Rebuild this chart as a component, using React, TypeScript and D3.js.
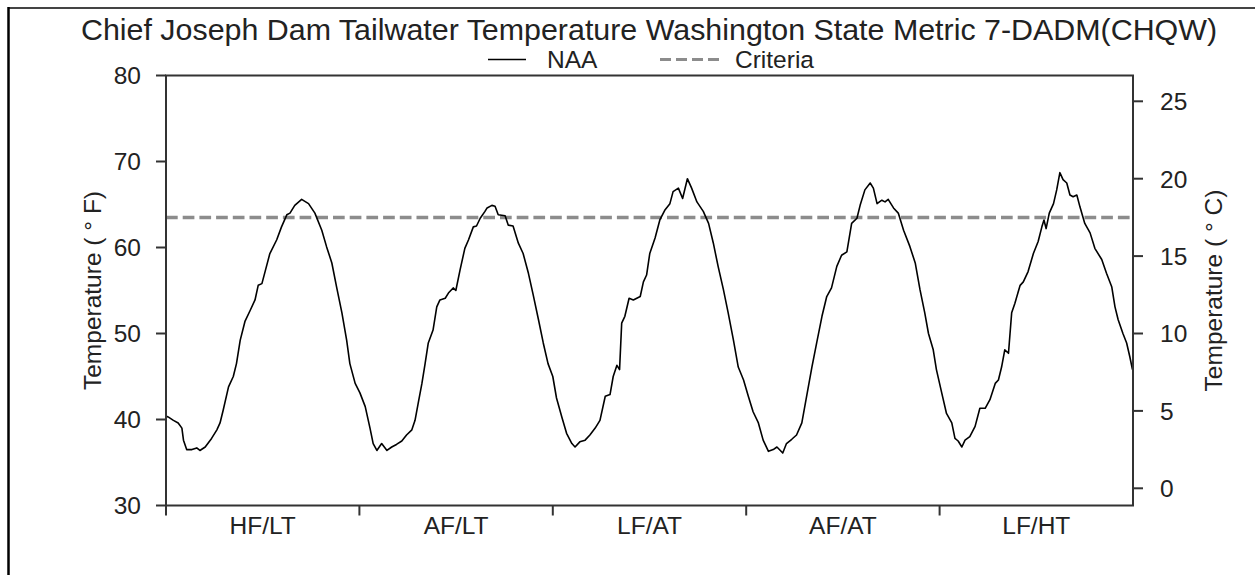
import React from "react";
import * as d3 from "d3";

const title = "Chief Joseph Dam Tailwater Temperature Washington State Metric 7-DADM(CHQW)";
const categories = ["HF/LT", "AF/LT", "LF/AT", "AF/AT", "LF/HT"];
const totalDays = 1825;
const fTicks = [30, 40, 50, 60, 70, 80];
const cTicks = [0, 5, 10, 15, 20, 25];
const criteriaC = 17.5;

const days = [0,4,14,23,30,33,39,49,58,64,74,86,96,102,108,118,127,133,140,149,159,168,174,181,187,196,209,218,228,234,243,256,269,281,294,303,313,322,332,341,347,357,366,376,385,391,398,407,417,426,435,445,454,464,470,476,483,489,495,504,511,517,527,533,542,547,555,564,571,580,586,593,602,606,615,621,627,640,646,655,665,674,684,693,703,712,721,730,737,747,756,766,772,781,791,800,810,819,829,838,844,851,856,860,866,874,882,895,901,907,913,923,932,942,951,957,967,975,984,992,1002,1014,1024,1033,1042,1052,1061,1071,1080,1090,1099,1108,1118,1127,1137,1146,1153,1164,1171,1181,1190,1200,1209,1219,1228,1238,1247,1256,1266,1275,1285,1294,1304,1310,1319,1329,1335,1342,1351,1357,1363,1373,1382,1392,1404,1414,1423,1432,1439,1448,1454,1464,1473,1483,1489,1495,1502,1508,1517,1527,1536,1546,1555,1565,1571,1577,1583,1590,1596,1602,1612,1618,1627,1637,1646,1653,1657,1661,1667,1675,1681,1687,1693,1700,1706,1712,1719,1725,1734,1744,1753,1766,1775,1785,1791,1797,1806,1813,1819,1824];

const naaF = [40.4,40.3,39.9,39.6,39.0,37.6,36.5,36.5,36.7,36.4,36.8,37.8,38.8,39.6,41.1,43.8,45.0,46.5,49.2,51.4,52.7,53.9,55.6,55.8,57.2,59.3,60.9,62.4,63.8,64.0,64.9,65.6,65.1,64.0,62.0,60.1,58.2,55.4,52.4,49.2,46.5,44.2,43.1,41.5,39.0,37.2,36.4,37.2,36.4,36.8,37.1,37.5,38.2,38.8,39.9,41.9,44.2,46.5,48.9,50.4,53.1,53.9,54.1,54.7,55.3,55.0,57.4,59.9,60.9,62.4,62.5,63.4,64.2,64.6,64.9,64.8,63.8,63.7,62.6,62.5,60.5,59.3,57.0,54.5,51.6,48.9,46.5,45.0,42.5,40.3,38.4,37.2,36.8,37.4,37.6,38.2,39.0,39.9,42.7,42.9,45.0,46.3,45.8,51.2,52.0,54.1,53.9,54.3,56.0,56.8,59.3,61.1,63.2,64.4,65.1,66.5,66.9,65.7,68.0,66.9,65.3,64.2,62.8,60.5,57.8,55.1,52.4,49.2,46.1,44.6,42.7,40.9,39.6,37.6,36.3,36.5,36.8,36.1,37.2,37.7,38.2,39.6,42.7,46.1,48.9,52.0,54.3,55.3,57.8,59.1,59.5,62.8,63.4,64.9,66.7,67.5,66.9,65.1,65.5,65.3,65.6,64.6,64.0,62.0,60.1,58.2,55.1,52.4,50.0,48.1,45.8,43.1,40.7,39.6,37.8,37.5,36.8,37.6,38.0,39.2,41.3,41.3,42.3,44.2,44.6,46.1,48.1,47.7,52.4,53.5,55.6,56.0,57.2,59.3,60.7,62.4,63.2,62.2,64.0,65.1,66.7,68.7,67.9,67.5,66.1,65.9,66.1,64.7,62.8,61.7,59.9,58.6,57.0,55.4,53.1,51.6,50.0,48.9,47.3,45.8];

const FONT = "'Liberation Sans', Arial, Helvetica, sans-serif";

export default function App() {
  const W = 1255, H = 575;
  const left = 166, right = 1133, top = 75.5, bottom = 505.5;

  const x = d3.scaleLinear().domain([0, totalDays]).range([left, right]);
  const yF = d3.scaleLinear().domain([30, 80]).range([bottom, top]);
  const toC = (f: number) => ((f - 32) * 5) / 9;
  const yC = d3.scaleLinear().domain([toC(30), toC(80)]).range([bottom, top]);
  const band = d3.scaleBand<string>().domain(categories).range([left, right]);

  const pts: [number, number][] = days.map((d, i) => [d, naaF[i]]);
  const line = d3
    .line<[number, number]>()
    .x((d) => x(d[0]))
    .y((d) => yF(d[1]))(pts) as string;

  const critY = yC(criteriaC);
  const axisColor = "#333";
  const textColor = "#222";
  const fs = 24.5;

  return (
    <svg
      width={W}
      height={H}
      style={{ position: "absolute", left: 0, top: 0, background: "#fff" }}
      fontFamily={FONT}
    >
      <rect x={0} y={0} width={W} height={H} fill="#fff" />
      {/* outer frame */}
      <line x1={8} x2={W} y1={8} y2={8} stroke="#444" strokeWidth={2} />
      <line x1={8.5} x2={8.5} y1={7} y2={H} stroke="#000" strokeWidth={2.5} />

      {/* title */}
      <text x={649} y={40} textAnchor="middle" fontSize={30.4} fill={textColor}>
        {title}
      </text>

      {/* legend */}
      <line x1={488} x2={526} y1={59.5} y2={59.5} stroke="#000" strokeWidth={1.5} />
      <text x={547} y={68} fontSize={fs} fill={textColor}>NAA</text>
      <line x1={660} x2={720} y1={59.5} y2={59.5} stroke="#8c8c8c" strokeWidth={3} strokeDasharray="11,5" />
      <text x={735} y={68} fontSize={fs} fill={textColor}>Criteria</text>

      {/* criteria line */}
      <line x1={left} x2={right} y1={critY} y2={critY} stroke="#8c8c8c" strokeWidth={3.5} strokeDasharray="11.7,5" />

      {/* NAA line */}
      <path d={line} fill="none" stroke="#000" strokeWidth={1.6} strokeLinejoin="round" />

      {/* frame */}
      <rect x={left} y={top} width={right - left} height={bottom - top} fill="none" stroke={axisColor} strokeWidth={2} />

      {/* left axis */}
      {fTicks.map((t) => (
        <g key={"f" + t}>
          <line x1={left - 10} x2={left} y1={yF(t)} y2={yF(t)} stroke={axisColor} strokeWidth={2} />
          <text x={left - 25} y={yF(t)} dy="0.36em" textAnchor="end" fontSize={fs} fill={textColor}>
            {t}
          </text>
        </g>
      ))}
      <text
        transform={`translate(101, ${(top + bottom) / 2}) rotate(-90)`}
        textAnchor="middle"
        fontSize={fs}
        fill={textColor}
      >
        Temperature ( ° F)
      </text>

      {/* right axis */}
      {cTicks.map((t) => (
        <g key={"c" + t}>
          <line x1={right} x2={right + 10} y1={yC(t)} y2={yC(t)} stroke={axisColor} strokeWidth={2} />
          <text x={right + 27} y={yC(t)} dy="0.36em" textAnchor="start" fontSize={fs} fill={textColor}>
            {t}
          </text>
        </g>
      ))}
      <text
        transform={`translate(1222, ${(top + bottom) / 2}) rotate(-90)`}
        textAnchor="middle"
        fontSize={fs}
        fill={textColor}
      >
        Temperature ( ° C)
      </text>

      {/* bottom axis */}
      {categories.map((c) => (
        <g key={c}>
          <line x1={band(c)!} x2={band(c)!} y1={bottom} y2={bottom + 10} stroke={axisColor} strokeWidth={2} />
          <text x={band(c)! + band.bandwidth() / 2} y={bottom + 28} textAnchor="middle" fontSize={fs} fill={textColor}>
            {c}
          </text>
        </g>
      ))}
    </svg>
  );
}
